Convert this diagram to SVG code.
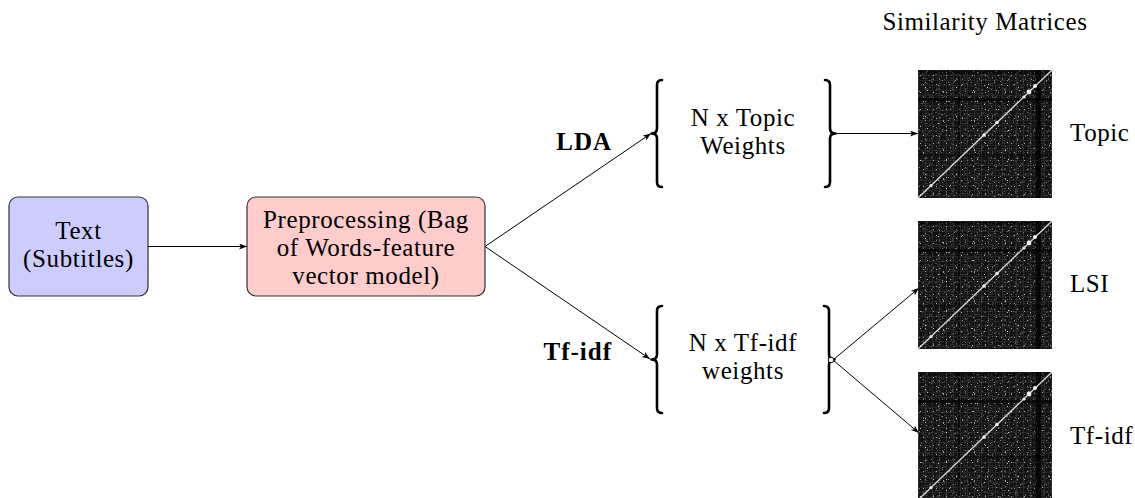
<svg xmlns="http://www.w3.org/2000/svg" width="1135" height="498" viewBox="0 0 1135 498">
  <style>
    .t { font-family: "Liberation Serif", "DejaVu Serif", serif; font-size: 25px; letter-spacing: 0.6px; fill: #000; }
    .b { font-family: "Liberation Serif", "DejaVu Serif", serif; font-size: 25px; letter-spacing: 1px; font-weight: bold; fill: #000; }
    .box { stroke: #333; stroke-width: 1.2; }
    .edge { stroke: #000; stroke-width: 1; fill: none; }
    .brace { stroke: #000; stroke-width: 2.6; fill: none; stroke-linecap: round; stroke-linejoin: round; }
  </style>
  <defs>
    <marker id="arr" markerWidth="10" markerHeight="8" refX="8" refY="3" orient="auto" markerUnits="userSpaceOnUse">
      <path d="M0,0 L8,3 L0,6 L2,3 z" fill="#000"/>
    </marker>
    <pattern id="gridV" width="7" height="11" patternUnits="userSpaceOnUse">
      <rect x="0" y="0" width="1" height="11" fill="#2b2b2b"/>
      <rect x="4" y="3" width="1" height="5" fill="#232323"/>
    </pattern>
    <pattern id="gridH" width="13" height="5" patternUnits="userSpaceOnUse">
      <rect x="0" y="0" width="13" height="1" fill="#262626"/>
      <rect x="6" y="3" width="4" height="1" fill="#303030"/>
    </pattern>
    <pattern id="spA" width="23" height="19" patternUnits="userSpaceOnUse">
      <rect x="1" y="2" width="1" height="1" fill="#8a8a8a"/>
      <rect x="5" y="7" width="1" height="2" fill="#5a5a5a"/>
      <rect x="9" y="1" width="1" height="1" fill="#b0b0b0"/>
      <rect x="13" y="11" width="1" height="1" fill="#7c7c7c"/>
      <rect x="17" y="4" width="2" height="1" fill="#4e4e4e"/>
      <rect x="20" y="15" width="1" height="1" fill="#c0c0c0"/>
      <rect x="3" y="14" width="1" height="1" fill="#6b6b6b"/>
      <rect x="11" y="17" width="2" height="1" fill="#4a4a4a"/>
      <rect x="7" y="12" width="1" height="1" fill="#989898"/>
      <rect x="15" y="8" width="1" height="2" fill="#5f5f5f"/>
      <rect x="21" y="9" width="1" height="1" fill="#8a8a8a"/>
      <rect x="18" y="0" width="1" height="1" fill="#747474"/>
      <rect x="0" y="6" width="1" height="1" fill="#555"/>
      <rect x="10" y="5" width="1" height="1" fill="#444"/>
    </pattern>
    <pattern id="spB" width="13" height="17" patternUnits="userSpaceOnUse">
      <rect x="2" y="5" width="1" height="1" fill="#b4b4b4"/>
      <rect x="8" y="2" width="1" height="1" fill="#606060"/>
      <rect x="11" y="10" width="1" height="1" fill="#7f7f7f"/>
      <rect x="5" y="14" width="1" height="1" fill="#a5a5a5"/>
      <rect x="0" y="9" width="1" height="1" fill="#505050"/>
      <rect x="9" y="13" width="1" height="1" fill="#454545"/>
    </pattern>
    <pattern id="spC" width="31" height="29" patternUnits="userSpaceOnUse">
      <rect x="4" y="3" width="2" height="2" fill="#3a3a3a"/>
      <rect x="19" y="8" width="2" height="1" fill="#3f3f3f"/>
      <rect x="25" y="21" width="1" height="2" fill="#9c9c9c"/>
      <rect x="12" y="24" width="2" height="1" fill="#363636"/>
      <rect x="28" y="2" width="1" height="1" fill="#d2d2d2"/>
      <rect x="7" y="17" width="1" height="1" fill="#cfcfcf"/>
    </pattern>
    <symbol id="mat" viewBox="0 0 134 128">
      <rect x="0" y="0" width="134" height="128" fill="#121212"/>
      <rect x="0" y="0" width="134" height="128" fill="url(#gridV)"/>
      <rect x="0" y="0" width="134" height="128" fill="url(#gridH)"/>
      <rect x="0" y="0" width="134" height="128" fill="url(#spA)"/>
      <rect x="0" y="0" width="134" height="128" fill="url(#spB)"/>
      <rect x="0" y="0" width="134" height="128" fill="url(#spC)"/>
      <rect x="118" y="0" width="5" height="128" fill="#000" opacity="0.8"/>
      <rect x="0" y="28" width="134" height="3" fill="#000" opacity="0.7"/>
      <rect x="0" y="84" width="134" height="2" fill="#000" opacity="0.5"/>
      <rect x="40" y="0" width="2" height="128" fill="#000" opacity="0.5"/>
      <rect x="0" y="0" width="134" height="4" fill="#000" opacity="0.4"/>
      <line x1="0" y1="128" x2="134" y2="0" stroke="#d8d8d8" stroke-width="1.3"/>
      <circle cx="117" cy="16" r="2" fill="#f0f0f0"/>
      <circle cx="111" cy="22" r="2.4" fill="#f0f0f0"/>
      <circle cx="106" cy="27" r="1.6" fill="#e8e8e8"/>
      <circle cx="79" cy="52.5" r="1.8" fill="#f0f0f0"/>
      <circle cx="66" cy="65" r="1.8" fill="#f0f0f0"/>
      <circle cx="13" cy="115.6" r="1.6" fill="#e8e8e8"/>
    </symbol>
  </defs>

  <g id="connectors">
    <line class="edge" x1="148" y1="246.5" x2="247" y2="246.5" marker-end="url(#arr)"/>
    <line class="edge" x1="485" y1="246.5" x2="651" y2="133.5" marker-end="url(#arr)"/>
    <line class="edge" x1="485" y1="246.5" x2="650" y2="359" marker-end="url(#arr)"/>
    <line class="edge" x1="836" y1="133.5" x2="918" y2="133.5" marker-end="url(#arr)"/>
    <line class="edge" x1="833" y1="360" x2="919" y2="288" marker-end="url(#arr)"/>
    <line class="edge" x1="833" y1="360" x2="919" y2="433" marker-end="url(#arr)"/>
  </g>

  <g id="node-text">
    <rect class="box" x="9" y="197" width="139" height="99" rx="9" fill="#ccccff"/>
    <text class="t" x="78.5" y="238.5" text-anchor="middle">Text</text>
    <text class="t" x="78.5" y="266.5" text-anchor="middle">(Subtitles)</text>
  </g>

  <g id="node-preprocessing">
    <rect class="box" x="247" y="197" width="238" height="99" rx="9" fill="#ffcccc"/>
    <text class="t" x="366" y="228" text-anchor="middle">Preprocessing (Bag</text>
    <text class="t" x="366" y="256" text-anchor="middle">of Words-feature</text>
    <text class="t" x="366" y="284" text-anchor="middle">vector model)</text>
  </g>

  <g id="label-lda">
    <text class="b" x="612" y="150" text-anchor="end">LDA</text>
  </g>
  <g id="label-tfidf">
    <text class="b" x="612" y="360" text-anchor="end">Tf-idf</text>
  </g>

  <g id="node-topic-weights">
    <path class="brace" d="M662,80 Q657,80 657,85 L657,128.5 Q657,133.5 651.5,133.5 Q657,133.5 657,138.5 L657,182 Q657,187 662,187"/>
    <path class="brace" d="M825,80 Q830,80 830,85 L830,128.5 Q830,133.5 835.5,133.5 Q830,133.5 830,138.5 L830,182 Q830,187 825,187"/>
    <text class="t" x="743" y="125.5" text-anchor="middle">N x Topic</text>
    <text class="t" x="743" y="153.5" text-anchor="middle">Weights</text>
  </g>

  <g id="node-tfidf-weights">
    <path class="brace" d="M662,306 Q657,306 657,311 L657,354.5 Q657,359.5 651.5,359.5 Q657,359.5 657,364.5 L657,408 Q657,413 662,413"/>
    <path class="brace" d="M824,306 Q829,306 829,311 L829,354.5 Q829,359.5 834.5,359.5 Q829,359.5 829,364.5 L829,408 Q829,413 824,413"/>
    <circle cx="831" cy="360" r="2.8" fill="#fff" stroke="#000" stroke-width="1"/>
    <text class="t" x="743" y="351" text-anchor="middle">N x Tf-idf</text>
    <text class="t" x="743" y="379" text-anchor="middle">weights</text>
  </g>

  <g id="title">
    <text class="t" x="985" y="30" text-anchor="middle">Similarity Matrices</text>
  </g>

  <g id="matrix-topic">
    <use href="#mat" x="918" y="70" width="134" height="128"/>
    <text class="t" x="1070" y="141">Topic</text>
  </g>
  <g id="matrix-lsi">
    <use href="#mat" x="918" y="221" width="134" height="128"/>
    <text class="t" x="1070" y="292">LSI</text>
  </g>
  <g id="matrix-tfidf">
    <use href="#mat" x="918" y="372" width="134" height="128"/>
    <text class="t" x="1070" y="444">Tf-idf</text>
  </g>
</svg>
